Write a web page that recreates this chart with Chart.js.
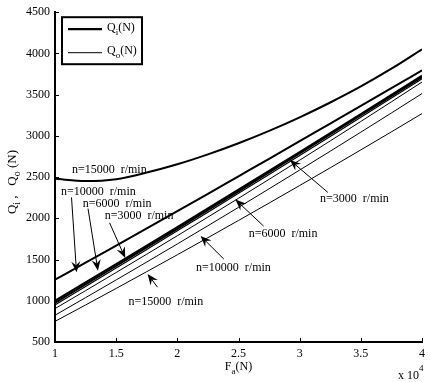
<!DOCTYPE html>
<html><head><meta charset="utf-8">
<style>html,body{margin:0;padding:0;background:#fff;overflow:hidden;}</style>
<script src="https://cdn.jsdelivr.net/npm/chart.js@4.4.1/dist/chart.umd.min.js"></script>
</head><body>
<canvas id="c" width="430" height="382" style="display:block;width:430px;height:382px"></canvas>
<script>
// ---- data (F_a in units of 10^4 N, loads in N) ----
const Fa       = [1.0, 1.25, 1.5, 1.75, 2.0, 2.25, 2.5, 2.75, 3.0, 3.25, 3.5, 3.75, 4.0];
const Qi15000  = [2480, 2452, 2475, 2555, 2655, 2775, 2910, 3060, 3225, 3405, 3600, 3815, 4050];
const Qi10000  = [1255, 1462, 1670, 1878, 2088, 2298, 2510, 2722, 2935, 3149, 3363, 3578, 3795];
const Qi6000   = [1000, 1222, 1445, 1669, 1894, 2120, 2347, 2575, 2804, 3034, 3265, 3497, 3730];
const Qi3000   = [975, 1198, 1422, 1647, 1873, 2100, 2328, 2557, 2787, 3018, 3250, 3483, 3712];
const Qo3000   = [950, 1173, 1397, 1622, 1848, 2075, 2303, 2532, 2762, 2993, 3225, 3458, 3692];
const Qo6000   = [905, 1123, 1343, 1565, 1789, 2015, 2243, 2473, 2705, 2939, 3175, 3413, 3653];
const Qo10000  = [825, 1038, 1253, 1470, 1689, 1910, 2133, 2358, 2585, 2814, 3045, 3278, 3513];
const Qo15000  = [750, 949, 1150, 1353, 1558, 1765, 1974, 2185, 2398, 2613, 2830, 3049, 3270];
const xTicks   = [1, 1.5, 2, 2.5, 3, 3.5, 4];
const yTicks   = [500, 1000, 1500, 2000, 2500, 3000, 3500, 4000, 4500];
const seriesLabels = ['Q_i(N)', 'Q_o(N)'];

const FONT = "'Liberation Serif','DejaVu Serif',serif";

function pts(ys){ return Fa.map((x,i)=>({x:x, y:ys[i]})); }
function ds(label, ys, w){
  return {label:label, data:pts(ys), borderColor:'#000', borderWidth:w, pointRadius:0,
          fill:false, cubicInterpolationMode:'monotone'};
}

// annotations in data coordinates
const notes = [
  {t:'n=15000  r/min', x:1.138, y:2590},
  {t:'n=10000  r/min', x:1.049, y:2326, from:[1.135,2254], to:[1.176,1345]},
  {t:'n=6000  r/min',  x:1.227, y:2170, from:[1.270,2118], to:[1.351,1365]},
  {t:'n=3000  r/min',  x:1.406, y:2026, from:[1.446,1946], to:[1.574,1518]},
  {t:'n=3000  r/min',  x:3.167, y:2242, from:[3.230,2315], to:[2.920,2707]},
  {t:'n=6000  r/min',  x:2.583, y:1810, from:[2.705,1906], to:[2.475,2227]},
  {t:'n=10000  r/min', x:2.153, y:1401, from:[2.380,1506], to:[2.190,1786]},
  {t:'n=15000  r/min', x:1.600, y:981,  from:[1.838,1165], to:[1.757,1326]}
];

function rich(ctx, parts, x, y, size, align){
  let w = 0;
  parts.forEach(p=>{ ctx.font = (p[1]? Math.round(size*0.75):size)+'px '+FONT; w += ctx.measureText(p[0]).width; });
  let cx = align==='center' ? x - w/2 : x;
  ctx.textAlign='left'; ctx.textBaseline='middle';
  parts.forEach(p=>{
    const s = p[1]? Math.round(size*0.75):size;
    ctx.font = s+'px '+FONT;
    const dy = p[1]===1 ? size*0.35 : (p[1]===2 ? -size*0.6 : 0);
    ctx.fillText(p[0], cx, y+dy);
    cx += ctx.measureText(p[0]).width;
  });
}

function arrow(ctx, x1,y1,x2,y2){
  const a=Math.atan2(y2-y1,x2-x1), L=11, W=4.5, c=Math.cos(a), s=Math.sin(a);
  ctx.beginPath(); ctx.moveTo(x1,y1); ctx.lineTo(x2-L*0.6*c, y2-L*0.6*s); ctx.stroke();
  ctx.beginPath(); ctx.moveTo(x2,y2);
  ctx.lineTo(x2-L*c+W*s, y2-L*s-W*c);
  ctx.lineTo(x2-L*0.65*c, y2-L*0.65*s);
  ctx.lineTo(x2-L*c-W*s, y2-L*s+W*c);
  ctx.closePath(); ctx.fill();
}

const decor = {
  id:'decor',
  afterDraw(chart){
    const ctx=chart.ctx, xs=chart.scales.x, ys=chart.scales.y, ca=chart.chartArea;
    ctx.save();
    ctx.strokeStyle='#000'; ctx.fillStyle='#000';
    ctx.lineWidth=1;
    xTicks.forEach(v=>{ const p=Math.round(xs.getPixelForValue(v))+0.5; ctx.beginPath(); ctx.moveTo(p,ca.bottom); ctx.lineTo(p,ca.bottom-4); ctx.stroke(); });
    yTicks.forEach(v=>{ const p=Math.round(ys.getPixelForValue(v))+0.5; ctx.beginPath(); ctx.moveTo(ca.left,p); ctx.lineTo(ca.left+4,p); ctx.stroke(); });
    ctx.lineWidth=1;
    notes.forEach(n=>{
      ctx.font='12px '+FONT; ctx.textAlign='left'; ctx.textBaseline='middle';
      ctx.fillText(n.t, xs.getPixelForValue(n.x), ys.getPixelForValue(n.y));
      if(n.from){
        arrow(ctx, xs.getPixelForValue(n.from[0]), ys.getPixelForValue(n.from[1]),
                   xs.getPixelForValue(n.to[0]),   ys.getPixelForValue(n.to[1]));
      }
    });
    // legend
    const lx=ca.left+7, ly=ca.top+5, lw=80, lh=47;
    ctx.fillStyle='#fff'; ctx.fillRect(lx,ly,lw,lh);
    ctx.fillStyle='#000'; ctx.lineWidth=2; ctx.strokeRect(lx,ly,lw,lh);
    ctx.lineWidth=2.2; ctx.beginPath(); ctx.moveTo(lx+6,ly+12); ctx.lineTo(lx+40,ly+12); ctx.stroke();
    ctx.lineWidth=1; ctx.beginPath(); ctx.moveTo(lx+6,ly+35.5); ctx.lineTo(lx+40,ly+35.5); ctx.stroke();
    rich(ctx, [['Q',0],['i',1],['(N)',0]], lx+45, ly+11, 12, 'left');
    rich(ctx, [['Q',0],['o',1],['(N)',0]], lx+45, ly+34, 12, 'left');
    // axis titles
    rich(ctx, [['F',0],['a',1],['(N)',0]], (ca.left+ca.right)/2, 367, 12, 'center');
    rich(ctx, [['x 10',0],['4',2]], 398, 376, 12, 'left');
    ctx.save(); ctx.translate(13, 182); ctx.rotate(-Math.PI/2);
    rich(ctx, [['Q',0],['i',1],[' ,   ',0],['Q',0],['o',1],[' (N)',0]], 0, 0, 13, 'center');
    ctx.restore();
    ctx.restore();
  }
};

new Chart(document.getElementById('c'), {
  type:'line',
  data:{ datasets:[
    ds(seriesLabels[1]+' 15000', Qo15000, 1),
    ds(seriesLabels[1]+' 10000', Qo10000, 1),
    ds(seriesLabels[1]+' 6000',  Qo6000, 1),
    ds(seriesLabels[1]+' 3000',  Qo3000, 1.2),
    ds(seriesLabels[0]+' 3000',  Qi3000, 2),
    ds(seriesLabels[0]+' 6000',  Qi6000, 2),
    ds(seriesLabels[0]+' 10000', Qi10000, 2),
    ds(seriesLabels[0]+' 15000', Qi15000, 2)
  ]},
  options:{
    responsive:false, animation:false, devicePixelRatio:1,
    layout:{padding:{top:9, right:6, left:0, bottom:0}},
    plugins:{legend:{display:false}, tooltip:{enabled:false}},
    scales:{
      x:{type:'linear', min:1, max:4,
         afterBuildTicks:s=>{ s.ticks = xTicks.map(v=>({value:v})); },
         afterFit:s=>{ s.height=40; },
         grid:{display:false, drawTicks:false},
         border:{display:true, color:'#000', width:2},
         ticks:{color:'#000', padding:5, maxRotation:0, font:{family:FONT, size:12}, callback:v=>String(v)}},
      y:{type:'linear', min:500, max:4500,
         afterBuildTicks:s=>{ s.ticks = yTicks.map(v=>({value:v})); },
         afterFit:s=>{ s.width=55; },
         grid:{display:false, drawTicks:false},
         border:{display:true, color:'#000', width:2},
         ticks:{color:'#000', padding:5, font:{family:FONT, size:12}, callback:v=>String(v)}}
    }
  },
  plugins:[decor]
});
</script>
</body></html>
